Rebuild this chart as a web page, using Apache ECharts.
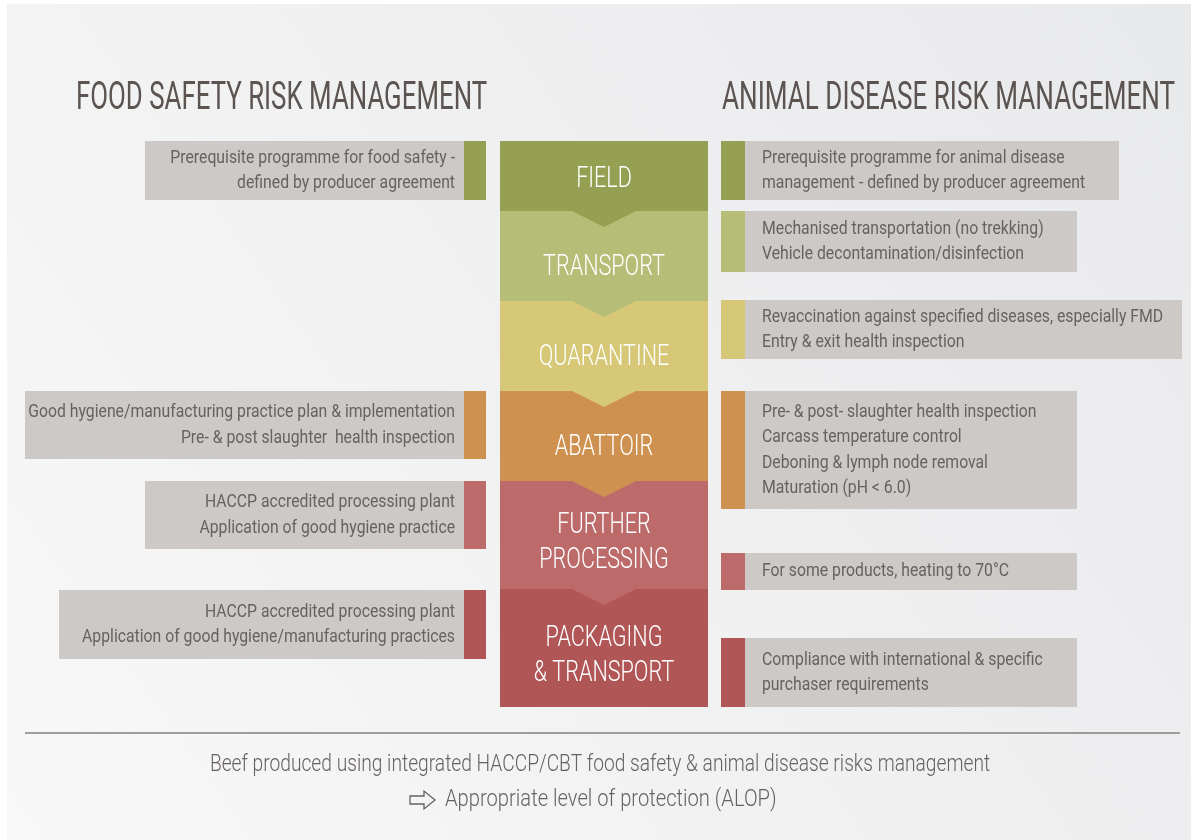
<!DOCTYPE html>
<html>
<head>
<meta charset="utf-8">
<title>Food safety and animal disease risk management</title>
<script src="https://cdn.jsdelivr.net/npm/echarts@6/dist/echarts.min.js"></script>
<style>
html, body { margin: 0; padding: 0; background: #fff; }
#main { width: 1191px; height: 840px; }
</style>
</head>
<body>
<div id="main"></div>
<script>
// stages of the chain, top to bottom
var stages = ['FIELD', 'TRANSPORT', 'QUARANTINE', 'ABATTOIR', 'FURTHER\nPROCESSING', 'PACKAGING\n& TRANSPORT'];

// notes per stage (null = no box)
var foodSafetyNotes = [
    ['Prerequisite programme for food safety -', 'defined by producer agreement'],
    null,
    null,
    ['Good hygiene/manufacturing practice plan & implementation', 'Pre- & post slaughter  health inspection'],
    ['HACCP accredited processing plant', 'Application of good hygiene practice'],
    ['HACCP accredited processing plant', 'Application of good hygiene/manufacturing practices']
];
var animalDiseaseNotes = [
    ['Prerequisite programme for animal disease', 'management - defined by producer agreement'],
    ['Mechanised transportation (no trekking)', 'Vehicle decontamination/disinfection'],
    ['Revaccination against specified diseases, especially FMD', 'Entry & exit health inspection'],
    ['Pre- & post- slaughter health inspection', 'Carcass temperature control', 'Deboning & lymph node removal', 'Maturation (pH < 6.0)'],
    ['For some products, heating to 70\u00b0C'],
    ['Compliance with international & specific', 'purchaser requirements']
];

var headings = ['FOOD SAFETY RISK MANAGEMENT', 'ANIMAL DISEASE RISK MANAGEMENT'];
var footerText = 'Beef produced using integrated HACCP/CBT food safety & animal disease risks management';
var footerResult = 'Appropriate level of protection (ALOP)';

// layout, in frame units (1 unit = 1px of the 1191x840 picture)
var stageEdges = [141, 211, 301, 391, 481, 589, 707];
var columnX = [500, 708];
var chevron = { half: 34, depth: 16 };
// [left, top, bottom]
var leftBoxes = [[145, 141, 200], null, null, [25, 391, 459], [145, 481, 549], [59, 590, 659]];
// [right, top, bottom]
var rightBoxes = [[1119, 141, 200], [1077, 211, 272], [1182, 300, 359], [1077, 391, 509], [1077, 553, 590], [1077, 638, 707]];
var stageColors = ['#95a052', '#b6bd76', '#d7c877', '#cf914f', '#bd6a6a', '#b05656'];
var boxColor = '#ccc9c6';
var noteColor = '#68625f';
var headColor = '#5b5450';

function rectFrom(api, x1, y1, x2, y2) {
    var a = api.coord([x1, y1]), b = api.coord([x2, y2]);
    return { x: a[0], y: a[1], width: b[0] - a[0], height: b[1] - a[1] };
}

function renderStage(params, api) {
    var i = api.value(0);
    var mid = (columnX[0] + columnX[1]) / 2;
    var children = [];

    // stage block
    children.push({ type: 'rect', shape: rectFrom(api, columnX[0], stageEdges[i], columnX[1], stageEdges[i + 1]), style: { fill: stageColors[i] } });

    // chevron into the next stage
    if (i < stages.length - 1) {
        var a = api.coord([mid - chevron.half, stageEdges[i + 1] - 1]);
        var b = api.coord([mid, stageEdges[i + 1] + chevron.depth]);
        var c = api.coord([mid + chevron.half, stageEdges[i + 1] - 1]);
        children.push({ type: 'polygon', z2: 5, shape: { points: [a, b, c] }, style: { fill: stageColors[i] } });
    }

    // stage name
    var top = stageEdges[i] + (i > 0 ? chevron.depth : 0);
    var shift = stages[i].indexOf('\n') >= 0 ? 0 : 3;
    var tc = api.coord([mid, (top + stageEdges[i + 1]) / 2 + shift]);
    children.push({ type: 'text', x: tc[0], y: tc[1], scaleX: 0.72, z2: 6,
        style: { text: stages[i], fill: '#fff', font: '300 30px Roboto', align: 'center', verticalAlign: 'middle', lineHeight: 35 } });

    // food safety box (left)
    var lb = leftBoxes[i];
    if (lb) {
        var r = columnX[0] - 14;
        children.push({ type: 'rect', shape: rectFrom(api, lb[0], lb[1], r, lb[2]), style: { fill: boxColor } });
        children.push({ type: 'rect', shape: rectFrom(api, r - 22, lb[1], r, lb[2]), style: { fill: stageColors[i] } });
        var lp = api.coord([r - 31, (lb[1] + lb[2]) / 2]);
        children.push({ type: 'text', x: lp[0], y: lp[1], scaleX: 0.83,
            style: { text: foodSafetyNotes[i].join('\n'), fill: noteColor, font: '19px Roboto', align: 'right', verticalAlign: 'middle', lineHeight: 25.5 } });
    }

    // animal disease box (right)
    var rb = rightBoxes[i];
    if (rb) {
        var l = columnX[1] + 13;
        children.push({ type: 'rect', shape: rectFrom(api, l, rb[1], rb[0], rb[2]), style: { fill: boxColor } });
        children.push({ type: 'rect', shape: rectFrom(api, l, rb[1], l + 24, rb[2]), style: { fill: stageColors[i] } });
        var rp = api.coord([l + 41, (rb[1] + rb[2]) / 2]);
        children.push({ type: 'text', x: rp[0], y: rp[1], scaleX: 0.83,
            style: { text: animalDiseaseNotes[i].join('\n'), fill: noteColor, font: '19px Roboto', align: 'left', verticalAlign: 'middle', lineHeight: 25.5 } });
    }

    return { type: 'group', children: children };
}

var chart = echarts.init(document.getElementById('main'), null, { renderer: 'canvas' });
var option = {
    animation: false,
    backgroundColor: '#fff',
    grid: { left: 0, right: 0, top: 0, bottom: 0 },
    xAxis: { type: 'value', min: 0, max: 1191, show: false },
    yAxis: { type: 'value', min: 0, max: 840, inverse: true, show: false },
    graphic: [
        // panel
        { type: 'rect', z: -10, shape: { x: 7, y: 4, width: 1184, height: 836 },
          style: { fill: new echarts.graphic.LinearGradient(1, 0, 0, 1, [{ offset: 0, color: '#e8e9eb' }, { offset: 1, color: '#f8f8f8' }]) } },
        // headings
        { type: 'text', x: 76, y: 99, scaleX: 0.68, style: { text: headings[0], fill: headColor, font: '38px Roboto', align: 'left', verticalAlign: 'middle' } },
        { type: 'text', x: 722, y: 99, scaleX: 0.687, style: { text: headings[1], fill: headColor, font: '38px Roboto', align: 'left', verticalAlign: 'middle' } },
        // footer
        { type: 'line', shape: { x1: 25, y1: 733, x2: 1180, y2: 733 }, style: { stroke: '#a19c98', lineWidth: 2 } },
        { type: 'text', x: 600, y: 765, scaleX: 0.8, style: { text: footerText, fill: noteColor, font: '300 24px Roboto', align: 'center', verticalAlign: 'middle' } },
        { type: 'polygon', shape: { points: [[410, 796], [424, 796], [424, 791], [435, 800], [424, 809], [424, 804], [410, 804]] },
          style: { fill: 'none', stroke: noteColor, lineWidth: 1.3 } },
        { type: 'text', x: 445, y: 800, scaleX: 0.84, style: { text: footerResult, fill: noteColor, font: '300 24px Roboto', align: 'left', verticalAlign: 'middle' } }
    ],
    series: [{
        type: 'custom',
        coordinateSystem: 'cartesian2d',
        clip: false,
        silent: true,
        renderItem: renderStage,
        data: stages.map(function (s, i) { return [i]; })
    }]
};
chart.setOption(option);
</script>
</body>
</html>
